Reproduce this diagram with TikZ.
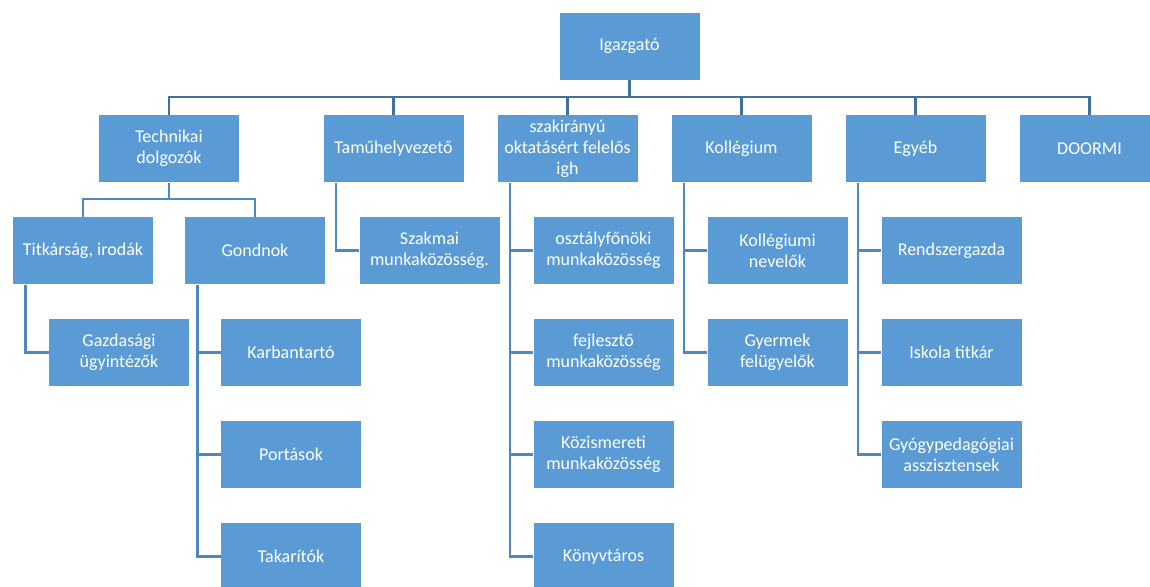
\documentclass[tikz,border=0pt]{standalone}
\usepackage{fontspec}
\setmainfont{Carlito}
\usetikzlibrary{positioning}
\definecolor{boxblue}{HTML}{5B9BD5}
\definecolor{busblue}{HTML}{41719C}
\definecolor{linkblue}{HTML}{4F87C3}

\begin{document}
\begin{tikzpicture}[x=1pt, y=-1pt, node distance=34pt and 33pt,
    unit/.style={draw=white, line width=0.6pt, fill=boxblue, text=white,
      minimum width=141pt, minimum height=68pt, inner sep=0pt, outer sep=0pt,
      align=center, font=\fontsize{18}{21}\selectfont},
    bus/.style={draw=busblue, line width=2.4pt},
    link/.style={draw=linkblue, line width=2.4pt}]
  \useasboundingbox (0,0) rectangle (1150,586);
  \clip (0,0) rectangle (1150,586);

  % top levels
  \node[unit] (igazgato) at (629.5,46) {Igazgató};
  \node[unit] (technikai) at (169,148.5) {Technikai\\dolgozók};
  \node[unit, right=83.5pt of technikai] (tamuhely) {Taműhelyvezető};
  \node[unit, right=of tamuhely] (szakirany) {szakirányú\\oktatásért felelős\\igh};
  \node[unit, right=of szakirany] (kollegium) {Kollégium};
  \node[unit, right=of kollegium] (egyeb) {Egyéb};
  \node[unit, right=of egyeb] (doormi) {DOORMI};

  % under Technikai dolgozók
  \node[unit, below=of technikai, xshift=-86pt] (titkarsag) {Titkárság, irodák};
  \node[unit, below=of technikai, xshift=86pt] (gondnok) {Gondnok};
  \node[unit, below=of titkarsag, xshift=36pt] (gazdasagi) {Gazdasági\\ügyintézők};
  \node[unit, below=of gondnok, xshift=36pt] (karbantarto) {Karbantartó};
  \node[unit, below=of karbantarto] (portasok) {Portások};
  \node[unit, below=of portasok] (takaritok) {Takarítók};

  % hanging columns
  \node[unit, below=of tamuhely, xshift=36pt] (szakmai) {Szakmai\\munkaközösség.};
  \node[unit, below=of szakirany, xshift=36pt] (osztalyfonoki) {osztályfőnöki\\munkaközösség};
  \node[unit, below=of osztalyfonoki] (fejleszto) {fejlesztő\\munkaközösség};
  \node[unit, below=of fejleszto] (kozismereti) {Közismereti\\munkaközösség};
  \node[unit, below=of kozismereti] (konyvtaros) {Könyvtáros};
  \node[unit, below=of kollegium, xshift=36pt] (nevelok) {Kollégiumi\\nevelők};
  \node[unit, below=of nevelok] (felugyelok) {Gyermek\\felügyelők};
  \node[unit, below=of egyeb, xshift=36pt] (rendszergazda) {Rendszergazda};
  \node[unit, below=of rendszergazda] (titkar) {Iskola titkár};
  \node[unit, below=of titkar] (asszisztensek) {Gyógypedagógiai\\asszisztensek};

  % connectors
  \draw[bus] (igazgato.south) -- ++(0,17) coordinate (fork);
  \foreach \n in {technikai, tamuhely, szakirany, kollegium, egyeb, doormi}
    \draw[bus] (fork) -| (\n.north);
  \foreach \n in {titkarsag, gondnok}
    \draw[link] (technikai.south) -- ++(0,16.5) -| (\n.north);
  \foreach \p/\c in {titkarsag/gazdasagi, gondnok/karbantarto, gondnok/portasok,
      gondnok/takaritok, tamuhely/szakmai, szakirany/osztalyfonoki,
      szakirany/fejleszto, szakirany/kozismereti, szakirany/konyvtaros,
      kollegium/nevelok, kollegium/felugyelok, egyeb/rendszergazda,
      egyeb/titkar, egyeb/asszisztensek}
    \draw[link] ([xshift=13pt]\p.south west) |- (\c.west);
\end{tikzpicture}
\end{document}
